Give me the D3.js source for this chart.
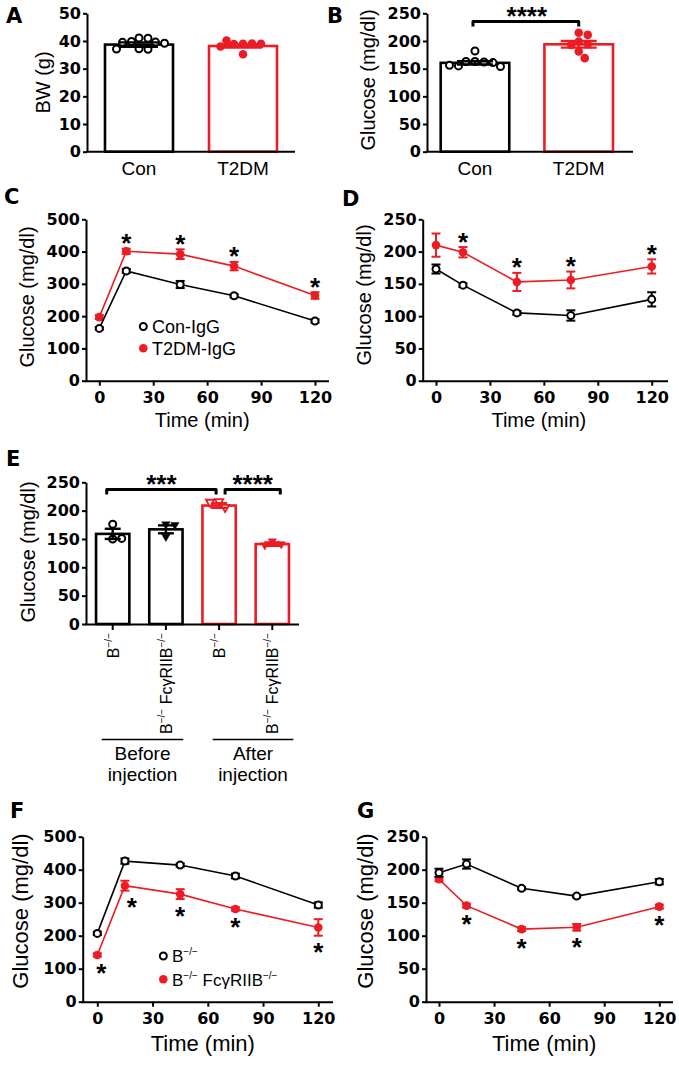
<!DOCTYPE html>
<html><head><meta charset="utf-8">
<script src="https://cdn.jsdelivr.net/npm/d3@7"></script>
<style>body{margin:0;background:#fff}svg{display:block}</style>
</head><body>
<svg id="c" width="679" height="1067"></svg>
<script>
// ---------------- DATA ----------------
const RED = "#ec1c24", BLK = "#000";
// Panel A: body weight
const barCats = ["Con", "T2DM"];
const bwMean = [38.7, 38.2];
const bwSem = [0.8, 0.6];
const bwConPts = [41.1, 41.0, 39.8, 39.6, 39.5, 39.2, 37.2, 37.0, 37.1];
const bwT2dmPts = [39.0, 39.1, 38.9, 39.0, 40.2, 38.0, 35.2];
const bwTicks = [0, 10, 20, 30, 40, 50];
// Panel B: fasting glucose
const gluMean = [160.5, 194];
const gluSem = [3, 6];
const gluConPts = [182, 163, 162, 163, 161, 155, 154, 156];
const gluT2dmPts = [215, 211, 199, 194, 193, 181, 169];
const glu250Ticks = [0, 50, 100, 150, 200, 250];
const glu500Ticks = [0, 100, 200, 300, 400, 500];
// Time courses
const times = [0, 15, 45, 75, 120];
const timeTicks = [0, 30, 60, 90, 120];
// Panel C (GTT)
const cConMean = [162, 340, 298, 263, 185], cConSem = [4, 6, 11, 5, 5];
const cT2Mean = [197, 401, 392, 355, 264], cT2Sem = [6, 8, 15, 13, 10];
const cStars = [15, 45, 75, 120];
// Panel D (ITT)
const dConMean = [173, 148, 105, 101, 126], dConSem = [7, 3, 3, 8, 11];
const dT2Mean = [210, 199, 153, 156, 177], dT2Sem = [18, 8, 14, 13, 11];
const dStars = [15, 45, 75, 120];
// Panel E
const eCats = ["b1", "b2", "b3", "b4"];
const eMean = [159, 167, 209, 141];
const eSem = [9, 7, 4, 3];
const ePts = [[176, 150, 151], [176, 175, 154], [216, 206, 215], [146, 141, 139]];
const eGroups = ["Before injection", "After injection"];
// Panel F (GTT)
const fWtMean = [207, 426, 414, 381, 293], fWtSem = [5, 8, 5, 7, 8];
const fKoMean = [141.5, 351.5, 326, 281, 225], fKoSem = [5, 15, 15, 5, 25];
const fStars = [0, 15, 45, 75, 120];
// Panel G (ITT)
const gWtMean = [195.5, 208.6, 171.8, 160, 181.8], gWtSem = [6, 7, 2, 2, 4];
const gKoMean = [185.5, 145.5, 110, 112.7, 144], gKoSem = [3, 3, 3, 5, 3];
const gStars = [15, 45, 75, 120];

// ---------------- DRAWING ----------------
const FONT = '"Liberation Sans", Arial, Helvetica, sans-serif';
const BOLDFONT = '"DejaVu Sans", "Liberation Sans", Arial, sans-serif';
const svg = d3.select("#c").attr("font-family", FONT).attr("font-weight", "normal");

function letter(t, x, y) {
  svg.append("text").attr("x", x).attr("y", y).attr("font-size", 21)
    .attr("font-family", BOLDFONT).attr("font-weight", "bold").text(t);
}
function star(g, cx, cy, n) {
  g.append("text").attr("x", cx).attr("y", cy + 14.5).attr("text-anchor", "middle")
    .attr("font-size", 26).attr("font-weight", "bold").text("*".repeat(n));
}
function yTitle(g, t, x, cy, fs) {
  g.append("text").attr("transform", `translate(${x},${cy}) rotate(-90)`)
    .attr("text-anchor", "middle").attr("font-size", fs).attr("font-weight", "normal").text(t);
}
function styleAxis(a) {
  a.attr("font-size", 16).attr("font-family", BOLDFONT).attr("font-weight", "bold");
  a.selectAll("line").attr("stroke", "#000").attr("stroke-width", 2);
  a.selectAll("path").attr("stroke", "#000").attr("stroke-width", 2);
  a.selectAll("text").attr("fill", "#000");
}
function yAxis(g, y, x, ticks) {
  const a = g.append("g").attr("transform", `translate(${x},0)`)
    .call(d3.axisLeft(y).tickValues(ticks).tickSize(4).tickPadding(2).tickSizeOuter(0));
  styleAxis(a);
  return a;
}
function hLine(g, x0, x1, yy) {
  g.append("line").attr("x1", x0 - 1).attr("x2", x1).attr("y1", yy).attr("y2", yy)
    .attr("stroke", "#000").attr("stroke-width", 2);
}
function swarm(values, y, r) {
  const placed = [];
  return values.map(v => {
    const py = y(v);
    let dx = 0;
    for (let k = 0; k < 80; k++) {
      const cand = (k % 2 ? 1 : -1) * Math.ceil(k / 2) * 1.5;
      if (placed.every(p => Math.hypot(p.x - cand, p.y - py) >= 2 * r + 0.6)) { dx = cand; break; }
    }
    placed.push({ x: dx, y: py });
    return dx;
  });
}
function marker(g, type, color, cx, cy) {
  if (type === "open") {
    g.append("circle").attr("cx", cx).attr("cy", cy).attr("r", 3.5)
      .attr("fill", "#fff").attr("stroke", color).attr("stroke-width", 2);
  } else if (type === "fill") {
    g.append("circle").attr("cx", cx).attr("cy", cy).attr("r", 4.3).attr("fill", color);
  } else {
    g.append("path").attr("d", d3.symbol(d3.symbolTriangle, 30)())
      .attr("transform", `translate(${cx},${cy}) rotate(180)`)
      .attr("fill", type === "triOpen" ? "#fff" : color)
      .attr("stroke", color).attr("stroke-width", type === "triOpen" ? 1.8 : 0.5);
  }
}
function errBar(g, cx, y, m, s, color, cap, sw) {
  g.append("line").attr("x1", cx).attr("x2", cx).attr("y1", y(m - s)).attr("y2", y(m + s))
    .attr("stroke", color).attr("stroke-width", sw);
  [m - s, m + s].forEach(v => g.append("line").attr("x1", cx - cap / 2).attr("x2", cx + cap / 2)
    .attr("y1", y(v)).attr("y2", y(v)).attr("stroke", color).attr("stroke-width", sw));
}
function bracket(g, x0, x1, yy) {
  g.append("path").attr("d", `M${x0},${yy + 5}V${yy}H${x1}V${yy + 5}`)
    .attr("fill", "none").attr("stroke", "#000").attr("stroke-width", 3)
    .attr("stroke-linejoin", "round");
}

// ---- bar + scatter panels (A, B) ----
function barPanel(cfg) {
  const g = svg.append("g");
  const y = d3.scaleLinear().domain([0, cfg.ymax]).range(cfg.yr);
  const x = d3.scaleBand().domain(cfg.cats).range(cfg.xr)
    .paddingInner(cfg.pi).paddingOuter(cfg.po);
  yAxis(g, y, cfg.axisX, cfg.ticks);
  cfg.cats.forEach((c, i) => {
    const col = cfg.colors[i];
    g.append("rect").attr("x", x(c)).attr("width", x.bandwidth())
      .attr("y", y(cfg.means[i])).attr("height", y(0) - y(cfg.means[i]))
      .attr("fill", "#fff").attr("stroke", col).attr("stroke-width", 2.6);
    const cx = x(c) + x.bandwidth() / 2;
    const offs = swarm(cfg.pts[i], y, cfg.r);
    cfg.pts[i].forEach((v, j) => marker(g, cfg.markers[i], col, cx + offs[j], y(v)));
    errBar(g, cx, y, cfg.means[i], cfg.sems[i], col, cfg.cap, 2.4);
    if (cfg.catLabels) g.append("text").attr("x", cx).attr("y", cfg.labelY)
      .attr("text-anchor", "middle").attr("font-size", 19).text(c);
  });
  hLine(g, cfg.axisX, cfg.axisEnd, y(0));
  return { g, x, y };
}

// Panel A
barPanel({ cats: barCats, means: bwMean, sems: bwSem, pts: [bwConPts, bwT2dmPts],
  ymax: 50, yr: [151.7, 13.3], xr: [87, 295], pi: 0.346, po: 0.173, axisX: 87, axisEnd: 295,
  ticks: bwTicks, colors: [BLK, RED], markers: ["open", "fill"], r: 3.8, cap: 38,
  catLabels: true, labelY: 175 });
yTitle(svg, "BW (g)", 50, 82.5, 20);
letter("A", 6, 23);

// Panel B
const pB = barPanel({ cats: barCats, means: gluMean, sems: gluSem, pts: [gluConPts, gluT2dmPts],
  ymax: 250, yr: [151.7, 13.3], xr: [427, 626.7], pi: 0.339, po: 0.132, axisX: 427, axisEnd: 633,
  ticks: glu250Ticks, colors: [BLK, RED], markers: ["open", "fill"], r: 3.8, cap: 36,
  catLabels: true, labelY: 175 });
{
  const c0 = pB.x("Con") + pB.x.bandwidth() / 2, c1 = pB.x("T2DM") + pB.x.bandwidth() / 2;
  bracket(pB.g, c0 - 2, c1, 21.5);
  star(pB.g, (c0 + c1) / 2, 10.5, 4);
}
yTitle(svg, "Glucose (mg/dl)", 375, 80, 20);
letter("B", 327, 23);

// ---- line panels ----
function linePanel(cfg) {
  const g = svg.append("g");
  const x = d3.scaleLinear().domain([0, 120]).range(cfg.xr);
  const y = d3.scaleLinear().domain([0, cfg.ymax]).range(cfg.yr);
  yAxis(g, y, cfg.axisX, cfg.yticks);
  const xa = g.append("g").attr("transform", `translate(0,${cfg.yr[0]})`)
    .call(d3.axisBottom(x).tickValues(timeTicks).tickSize(5).tickPadding(6).tickSizeOuter(0));
  styleAxis(xa);
  xa.select(".domain").remove();
  hLine(g, cfg.axisX, cfg.axisEnd, cfg.yr[0] + 0.5);
  g.append("text").attr("x", (cfg.xr[0] + cfg.xr[1]) / 2 - 5).attr("y", cfg.xTitleY)
    .attr("text-anchor", "middle").attr("font-size", cfg.titleFs).attr("font-weight", "normal")
    .text("Time (min)");
  yTitle(g, "Glucose (mg/dl)", cfg.yTitleX, cfg.yTitleCy, cfg.titleFs);
  cfg.series.forEach(s => {
    s.mean.forEach((m, i) => errBar(g, x(times[i]), y, m, s.sem[i], s.color, 9, 2));
    g.append("path").datum(s.mean)
      .attr("d", d3.line().x((d, i) => x(times[i])).y(d => y(d)))
      .attr("fill", "none").attr("stroke", s.color).attr("stroke-width", 1.6);
    s.mean.forEach((m, i) => marker(g, s.filled ? "fill" : "open", s.color, x(times[i]), y(m)));
  });
  const sig = cfg.series[cfg.starSeries];
  cfg.stars.forEach(t => {
    const i = times.indexOf(t);
    const cy = cfg.starBelow ? y(sig.mean[i] - sig.sem[i]) + 11 : y(sig.mean[i] + sig.sem[i]) - 11;
    star(g, x(t) + (cfg.starDx ? (cfg.starDx[t] || 0) : 0), cy, 1);
  });
  return { g, x, y };
}

// Panel C
const pC = linePanel({ xr: [99.3, 315], yr: [380.7, 219.3], ymax: 500, yticks: glu500Ticks,
  axisX: 86, axisEnd: 329, xTitleY: 427, yTitleX: 34, yTitleCy: 297, titleFs: 20,
  series: [{ mean: cT2Mean, sem: cT2Sem, color: RED, filled: true },
           { mean: cConMean, sem: cConSem, color: BLK, filled: false }],
  stars: cStars, starSeries: 0, starBelow: false });
{
  const lg = pC.g;
  marker(lg, "open", BLK, 143.3, 326.5);
  marker(lg, "fill", RED, 143.3, 348.3);
  lg.append("text").attr("x", 152).attr("y", 333).attr("font-size", 18).text("Con-IgG");
  lg.append("text").attr("x", 152).attr("y", 354.5).attr("font-size", 18).text("T2DM-IgG");
}
letter("C", 4, 204);

// Panel D
linePanel({ xr: [436, 651.7], yr: [380.7, 219.3], ymax: 250, yticks: glu250Ticks,
  axisX: 422.7, axisEnd: 668, xTitleY: 427, yTitleX: 371, yTitleCy: 295, titleFs: 20,
  series: [{ mean: dT2Mean, sem: dT2Sem, color: RED, filled: true },
           { mean: dConMean, sem: dConSem, color: BLK, filled: false }],
  stars: dStars, starSeries: 0, starBelow: false });
letter("D", 342, 206);

// Panel E
{
  const g = svg.append("g");
  const y = d3.scaleLinear().domain([0, 250]).range([624, 482.3]);
  const x = d3.scaleBand().domain(eCats).range([86, 299]).paddingInner(0.374).paddingOuter(0.189);
  yAxis(g, y, 86, glu250Ticks);
  const cols = [BLK, BLK, RED, RED];
  const mk = ["open", "triFill", "triOpen", "triFill"];
  const centers = eCats.map(c => x(c) + x.bandwidth() / 2);
  eCats.forEach((c, i) => {
    g.append("rect").attr("x", x(c)).attr("width", x.bandwidth())
      .attr("y", y(eMean[i])).attr("height", y(0) - y(eMean[i]))
      .attr("fill", "#fff").attr("stroke", cols[i]).attr("stroke-width", 2.6);
    const offs = swarm(ePts[i], y, 3.8);
    ePts[i].forEach((v, j) => marker(g, mk[i], cols[i], centers[i] + offs[j], y(v)));
    errBar(g, centers[i], y, eMean[i], eSem[i], cols[i], 16, 2.4);
    g.append("line").attr("x1", centers[i]).attr("x2", centers[i])
      .attr("y1", 624).attr("y2", 630).attr("stroke", "#000").attr("stroke-width", 2);
    // rotated genotype labels
    const t = g.append("text").attr("transform", `translate(${centers[i] + 6},633) rotate(-90)`)
      .attr("text-anchor", "end").attr("font-size", 16).attr("fill", "#000");
    const parts = i % 2 === 0 ? [["B", 0], ["−/−", 1]] : [["B", 0], ["−/−", 1], [" FcγRIIB", 0], ["−/−", 1]];
    let prevSup = false;
    parts.forEach(([s, sup]) => {
      const ts = t.append("tspan").text(s);
      if (sup) { ts.attr("font-size", 10).attr("dy", -7); }
      else if (prevSup) { ts.attr("dy", 7); }
      prevSup = !!sup;
    });
  });
  hLine(g, 86, 299, 624.5);
  bracket(g, centers[0] - 6, centers[2] - 3, 489.5);
  star(g, (centers[0] - 6 + centers[2] - 3) / 2, 478, 3);
  bracket(g, centers[2] + 6, centers[3] + 8, 489.5);
  star(g, (centers[2] + 6 + centers[3] + 8) / 2, 478, 4);
  // group underlines
  const grp = [[101.7, 183.3], [212.7, 293.3]];
  eGroups.forEach((lab, k) => {
    g.append("line").attr("x1", grp[k][0]).attr("x2", grp[k][1]).attr("y1", 739.5).attr("y2", 739.5)
      .attr("stroke", "#000").attr("stroke-width", 1.5);
    const w = lab.split(" ");
    const cx = (grp[k][0] + grp[k][1]) / 2;
    g.append("text").attr("x", cx).attr("y", 760).attr("text-anchor", "middle").attr("font-size", 19).text(w[0]);
    g.append("text").attr("x", cx).attr("y", 781).attr("text-anchor", "middle").attr("font-size", 19).text(w[1]);
  });
  yTitle(g, "Glucose (mg/dl)", 34.5, 552, 20);
}
letter("E", 6, 466);

// Panel F
const pF = linePanel({ xr: [97.3, 318.3], yr: [1001.7, 836.7], ymax: 500, yticks: glu500Ticks,
  axisX: 82.7, axisEnd: 333, xTitleY: 1051, yTitleX: 28, yTitleCy: 911, titleFs: 22,
  series: [{ mean: fKoMean, sem: fKoSem, color: RED, filled: true },
           { mean: fWtMean, sem: fWtSem, color: BLK, filled: false }],
  stars: fStars, starSeries: 0, starBelow: true, starDx: { 0: 4, 15: 7 } });
{
  const lg = pF.g;
  marker(lg, "open", BLK, 163.3, 956);
  marker(lg, "fill", RED, 163.3, 979.3);
  const t1 = lg.append("text").attr("x", 172).attr("y", 962).attr("font-size", 17);
  t1.append("tspan").text("B");
  t1.append("tspan").attr("font-size", 10).attr("dy", -7).text("−/−");
  const t2 = lg.append("text").attr("x", 172).attr("y", 985.5).attr("font-size", 17);
  t2.append("tspan").text("B");
  t2.append("tspan").attr("font-size", 10).attr("dy", -7).text("−/−");
  t2.append("tspan").attr("dy", 7).text(" FcγRIIB");
  t2.append("tspan").attr("font-size", 10).attr("dy", -7).text("−/−");
}
letter("F", 10, 818);

// Panel G
linePanel({ xr: [439, 659.3], yr: [1001.7, 836.7], ymax: 250, yticks: glu250Ticks,
  axisX: 426, axisEnd: 673, xTitleY: 1051, yTitleX: 373, yTitleCy: 911, titleFs: 22,
  series: [{ mean: gKoMean, sem: gKoSem, color: RED, filled: true },
           { mean: gWtMean, sem: gWtSem, color: BLK, filled: false }],
  stars: gStars, starSeries: 0, starBelow: true });
letter("G", 357, 818);
</script>
</body></html>
